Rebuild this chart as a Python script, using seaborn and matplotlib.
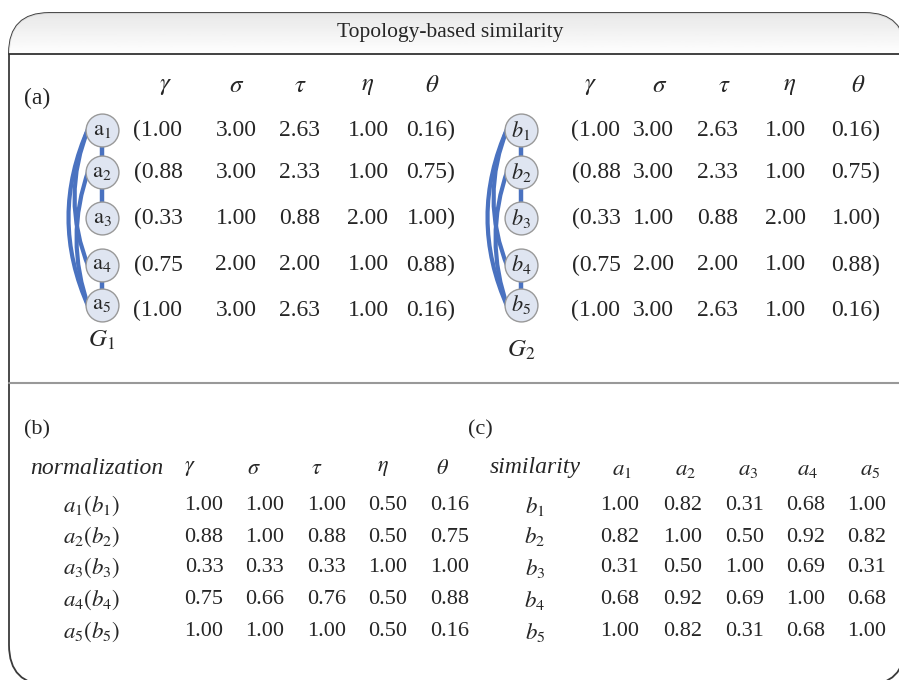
import numpy as np
import pandas as pd
import matplotlib.pyplot as plt
import seaborn as sns
from matplotlib.patches import FancyBboxPatch, PathPatch
from matplotlib.path import Path

# ---- data ----
params = [r"$\gamma$", r"$\sigma$", r"$\tau$", r"$\eta$", r"$\theta$"]
raw_values = [
    [1.00, 3.00, 2.63, 1.00, 0.16],
    [0.88, 3.00, 2.33, 1.00, 0.75],
    [0.33, 1.00, 0.88, 2.00, 1.00],
    [0.75, 2.00, 2.00, 1.00, 0.88],
    [1.00, 3.00, 2.63, 1.00, 0.16],
]
norm_values = [
    [1.00, 1.00, 1.00, 0.50, 0.16],
    [0.88, 1.00, 0.88, 0.50, 0.75],
    [0.33, 0.33, 0.33, 1.00, 1.00],
    [0.75, 0.66, 0.76, 0.50, 0.88],
    [1.00, 1.00, 1.00, 0.50, 0.16],
]
sim_values = [
    [1.00, 0.82, 0.31, 0.68, 1.00],
    [0.82, 1.00, 0.50, 0.92, 0.82],
    [0.31, 0.50, 1.00, 0.69, 0.31],
    [0.68, 0.92, 0.69, 1.00, 0.68],
    [1.00, 0.82, 0.31, 0.68, 1.00],
]
g1_nodes = [r"$\mathrm{a}_%d$" % i for i in range(1, 6)]
g2_nodes = [r"$b_%d$" % i for i in range(1, 6)]
straight_edges = [(0, 1), (1, 2), (3, 4)]
curved_edges = [(0, 3), (0, 4), (1, 4)]
norm_rows = [r"$a_%d(b_%d)$" % (i, i) for i in range(1, 6)]
sim_cols = [r"$a_%d$" % i for i in range(1, 6)]
sim_rows = [r"$b_%d$" % i for i in range(1, 6)]

sns.set_theme(style="white")
plt.rcParams['font.family'] = ['Liberation Serif', 'DejaVu Serif']
plt.rcParams['mathtext.fontset'] = 'stix'

W, H = 899, 680
fig = plt.figure(figsize=(W / 100, H / 100), dpi=100)
ax = fig.add_axes([0, 0, 1, 1])
ax.set_xlim(0, W)
ax.set_ylim(H, 0)
ax.axis('off')

# ---- frame ----
frame = FancyBboxPatch((9, 13), 896, 672, boxstyle="round,pad=0,rounding_size=40",
                       facecolor='white', edgecolor='#3a3a3a', lw=1.3, zorder=0)
ax.add_patch(frame)
grad = np.linspace(0.90, 1.0, 50).reshape(-1, 1)
img = ax.imshow(grad, cmap='gray', vmin=0, vmax=1, extent=(9, 905, 54, 13),
                aspect='auto', zorder=0.5, alpha=0.9)
img.set_clip_path(frame)
ax.plot([9, 905], [54, 54], color='#333333', lw=1.3, zorder=1)
ax.plot([9, 905], [383, 383], color='#999999', lw=1.5, zorder=1)
ax.text(450, 33, "Topology-based similarity", ha='center', va='center', fontsize=15.5)

# ---- (a) ----
ax.text(24, 98, "(a)", ha='left', va='center', fontsize=17)
node_y = [130, 172, 218, 265, 305]
row_y = [130, 172, 218, 265, 310]
edge_col = '#4a72c0'


def draw_graph(cx, labels, glabel, gy):
    for i, j in straight_edges:
        ax.plot([cx, cx], [node_y[i], node_y[j]], color=edge_col, lw=3.2, zorder=2)
    ctrl = {(0, 3): 60, (0, 4): 48, (1, 4): 64}
    for i, j in curved_edges:
        p0 = (cx - 13, node_y[i] - 3)
        p2 = (cx - 13, node_y[j] + 3)
        c = (cx - 102 + ctrl[(i, j)], (node_y[i] + node_y[j]) / 2)
        path = Path([p0, c, p2], [Path.MOVETO, Path.CURVE3, Path.CURVE3])
        ax.add_patch(PathPatch(path, facecolor='none', edgecolor=edge_col, lw=3, zorder=2))
    df = pd.DataFrame({'x': [cx] * 5, 'y': node_y})
    sns.scatterplot(data=df, x='x', y='y', s=560, color='#dfe5f1', edgecolor='#999999',
                    linewidth=1.0, ax=ax, zorder=3, legend=False)
    for lab, y in zip(labels, node_y):
        ax.text(cx, y, lab, ha='center', va='center', fontsize=16, zorder=4)
    ax.text(cx, gy, glabel, ha='center', va='center', fontsize=18)


draw_graph(102, g1_nodes, r"$G_1$", 340)
draw_graph(521, g2_nodes, r"$G_2$", 350)


def draw_raw(hdr_x, col_x):
    for p, x in zip(params, hdr_x):
        ax.text(x, 86, p, ha='center', va='center', fontsize=18)
    for r, y in zip(raw_values, row_y):
        for k, (v, x) in enumerate(zip(r, col_x)):
            s = "%.2f" % v
            if k == 0:
                s = "(" + s
            if k == 4:
                s = s + ")"
            ax.text(x, y, s, ha='center', va='center', fontsize=17)


draw_raw([165, 237, 300, 368, 432], [158, 236, 300, 368, 431])
draw_raw([590, 660, 724, 790, 858], [596, 653, 718, 785, 856])

# ---- (b) ----
ax.text(24, 430, "(b)", ha='left', va='center', fontsize=16)
hdr_y = 469
tab_y = [506, 537, 568, 600, 632]
ax.text(30, hdr_y, "normalization", ha='left', va='center', fontsize=17, style='italic')
b_hdr = [190, 254, 317, 383, 443]
b_col = [204, 265, 327, 388, 450]
for p, x in zip(params, b_hdr):
    ax.text(x, hdr_y, p, ha='center', va='center', fontsize=16)
for lab, r, y in zip(norm_rows, norm_values, tab_y):
    ax.text(92, y, lab, ha='center', va='center', fontsize=16.5)
    for v, x in zip(r, b_col):
        ax.text(x, y, "%.2f" % v, ha='center', va='center', fontsize=16)

# ---- (c) ----
ax.text(468, 430, "(c)", ha='left', va='center', fontsize=16)
ax.text(535, hdr_y - 2, "similarity", ha='center', va='center', fontsize=17, style='italic')
c_hdr = [622, 686, 748, 808, 870]
c_col = [620, 683, 745, 806, 867]
for lab, x in zip(sim_cols, c_hdr):
    ax.text(x, hdr_y, lab, ha='center', va='center', fontsize=16.5)
for lab, r, y in zip(sim_rows, sim_values, tab_y):
    ax.text(535, y, lab, ha='center', va='center', fontsize=16.5)
    for v, x in zip(r, c_col):
        ax.text(x, y, "%.2f" % v, ha='center', va='center', fontsize=16)

fig.savefig("out.png", dpi=100)
